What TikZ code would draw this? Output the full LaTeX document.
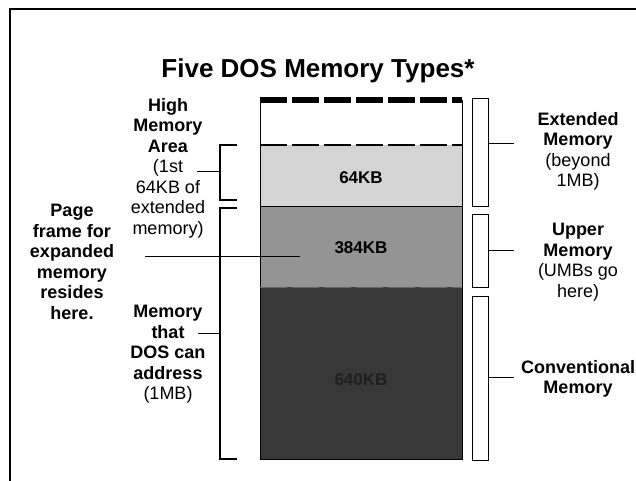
\documentclass[tikz,border=0pt]{standalone}
\usepackage{fontspec}
\setmainfont{Liberation Sans}
\begin{document}
\begin{tikzpicture}
[x=1pt,y=-1pt,
 label text/.style={align=center,inner sep=0pt,anchor=north,font=\fontsize{18}{20.5}\selectfont},
 size text/.style={inner sep=0pt,font=\fontsize{17}{20}\selectfont\bfseries},
 block/.style={draw=black,line width=1pt},
 gap dashes/.style={dash pattern=on 27pt off 5pt},
 side box/.style={draw=black,line width=1pt,minimum width=16pt,inner sep=0pt},
 brace/.style={line width=1.2pt},
 tick/.style={line width=1pt}]
\useasboundingbox (0,0) rectangle (636,481);
% frame
\draw[line width=2pt] (10,481) -- (10,9) -- (636,9);
\node[anchor=north,inner sep=0pt,font=\fontsize{26}{30}\selectfont\bfseries] (title) at (318,58) {Five DOS Memory Types*};
% memory column
\fill[black!17] (260,145) rectangle (462,206);
\fill[black!42] (260,206) rectangle (462,287);
\fill[black!78] (260,287) rectangle (462,459);
\draw[block] (260,100) -- (260,459) -- (462,459) -- (462,100);
\draw[block] (260,206) -- (462,206);
\draw[line width=6pt,gap dashes] (260,100) -- (462,100);
\draw[line width=1.5pt,gap dashes] (260,145) -- (462,145);
\draw[line width=1pt,gap dashes,black!60] (260,287) -- (462,287);
\node[size text] (hma) at (361,178) {64KB};
\node[size text] (umb) at (361,248) {384KB};
\node[size text,black!88] (conv) at (361,380) {640KB};
% right boxes
\node[side box,minimum height=107pt] (extbox) at (480,152.5) {};
\node[side box,minimum height=73pt] (upbox) at (480,250.5) {};
\node[side box,minimum height=164pt] (convbox) at (480,378) {};
\draw[tick] ([yshift=8.5pt]extbox.east) -- ++(25,0);
\draw[tick] (upbox.east) -- ++(25,0);
\draw[tick] ([yshift=1pt]convbox.east) -- ++(25,0);
\node[label text] (extlabel) at (578,112) {\textbf{Extended}\\\textbf{Memory}\\(beyond\\1MB)};
\node[label text] (uplabel) at (578,223) {\textbf{Upper}\\\textbf{Memory}\\(UMBs go\\here)};
\node[label text] (convlabel) at (578,360) {\textbf{Conventional}\\\textbf{Memory}};
% left brackets
\node[label text] (hmalabel) at (168,98) {\textbf{High}\\\textbf{Memory}\\\textbf{Area}\\(1st\\64KB of\\extended\\memory)};
\node[label text] (pagelabel) at (72,204) {\textbf{Page}\\\textbf{frame for}\\\textbf{expanded}\\\textbf{memory}\\\textbf{resides}\\\textbf{here.}};
\node[label text] (doslabel) at (168,305) {\textbf{Memory}\\\textbf{that}\\\textbf{DOS can}\\\textbf{address}\\(1MB)};
\coordinate (hmatop) at (237,145);
\coordinate (hmabot) at (237,200);
\coordinate (dostop) at (237,208);
\coordinate (dosbot) at (237,459);
\draw[brace] (hmatop) -- (220,145) -- (220,200) -- (hmabot);
\draw[brace] (dostop) -- (220,208) -- (220,459) -- (dosbot);
\draw[tick] (197,171) -- (220,171);
\draw[tick] (198,333) -- (220,333);
\coordinate (pagestart) at (145,256);
\coordinate (pageend) at (300,256);
\draw[tick] (pagestart) -- (pageend);
\end{tikzpicture}
\end{document}
